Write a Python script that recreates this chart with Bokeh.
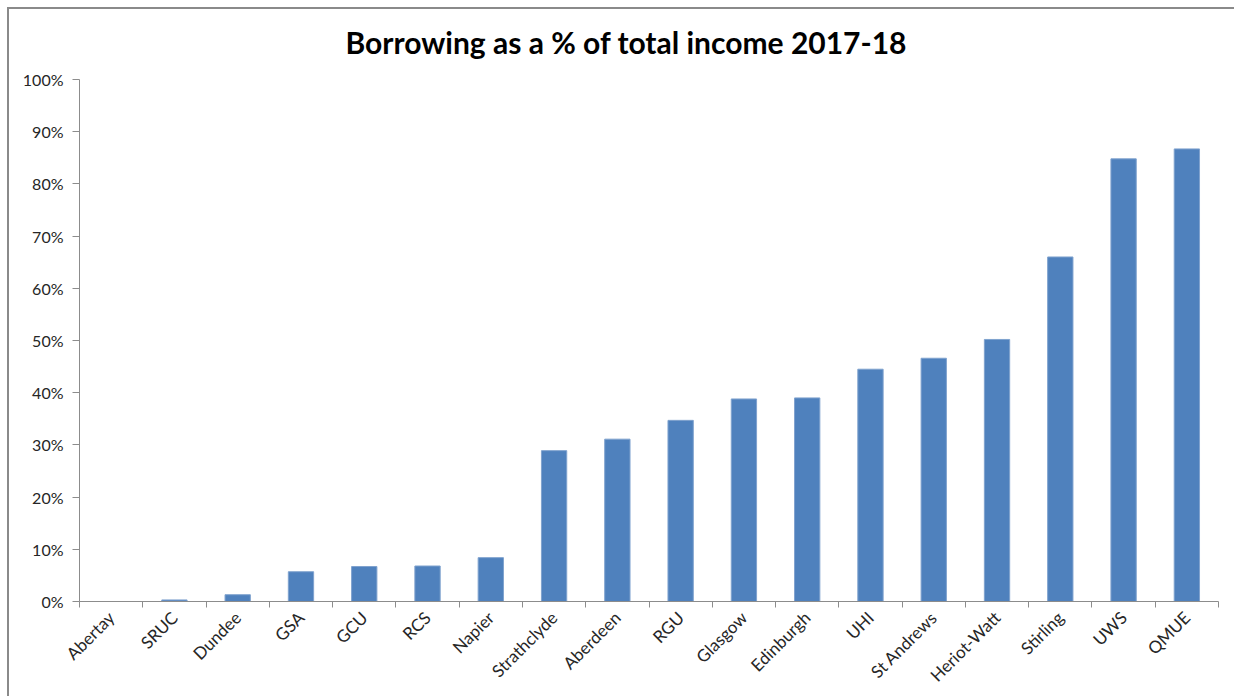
from bokeh.plotting import figure
from bokeh.models import Range1d, FixedTicker, PrintfTickFormatter, LinearAxis
from bokeh.embed import file_html
from bokeh.resources import INLINE
import math

categories = ["Abertay", "SRUC", "Dundee", "GSA", "GCU", "RCS", "Napier", "Strathclyde",
              "Aberdeen", "RGU", "Glasgow", "Edinburgh", "UHI", "St Andrews", "Heriot-Watt",
              "Stirling", "UWS", "QMUE"]
borrowing_pct = [0.0, 0.3, 1.3, 5.7, 6.7, 6.8, 8.4, 28.9, 31.1, 34.7, 38.8, 39.0, 44.5,
                 46.6, 50.2, 66.0, 84.8, 86.7]
y_ticks = [0, 10, 20, 30, 40, 50, 60, 70, 80, 90, 100]
title_text = "Borrowing as a % of total income 2017-18"

FONT = "Lato"
GREY = "#8c8c8c"
BORDER = "#8a8a8a"

n = len(categories)
xpos = [i + 0.5 for i in range(n)]

p = figure(width=1234, height=696, output_backend="svg", toolbar_location=None,
           x_range=Range1d(0, n), y_range=Range1d(0, 100),
           min_border_left=79, min_border_right=16, min_border_top=79, min_border_bottom=94,
           x_axis_type=None, y_axis_type=None)

# outer chart border (left and top edges) painted behind a transparent canvas border area
p.border_fill_color = "white"
p.border_fill_alpha = 0.0
p.styles = {
    "vertical-align": "top",
    "background": (f"linear-gradient({BORDER},{BORDER}) 7px 7px / 2px 100% no-repeat, "
                   f"linear-gradient({BORDER},{BORDER}) 7px 7px / 100% 2px no-repeat, white"),
}

p.title.text = title_text
p.title.text_font = FONT
p.title.text_font_size = "30px"
p.title.text_font_style = "bold"
p.title.text_color = "#000000"
p.title.align = "left"
p.title.vertical_align = "top"
p.title.offset = 266
p.title.standoff = 36

p.outline_line_color = None
p.background_fill_color = "white"

p.vbar(x=xpos, top=borrowing_pct, width=0.4, bottom=0,
       fill_color="#4F81BD", line_color="#7FA2CE", line_width=1)

# y axis
yaxis = LinearAxis(ticker=FixedTicker(ticks=y_ticks),
                   formatter=PrintfTickFormatter(format="%d%%"))
yaxis.axis_line_color = GREY
yaxis.major_tick_line_color = GREY
yaxis.major_tick_out = 7
yaxis.major_tick_in = 0
yaxis.minor_tick_line_color = None
yaxis.major_label_text_font = FONT
yaxis.major_label_text_font_size = "16px"
yaxis.major_label_text_color = "#262626"
yaxis.major_label_standoff = 9
p.add_layout(yaxis, "left")

# x axis: labels at centres, tick marks at category boundaries
xaxis = LinearAxis(ticker=FixedTicker(ticks=xpos, minor_ticks=list(range(n + 1))))
xaxis.major_label_overrides = {x: c for x, c in zip(xpos, categories)}
xaxis.axis_line_color = GREY
xaxis.major_tick_line_color = None
xaxis.minor_tick_line_color = GREY
xaxis.minor_tick_out = 6
xaxis.minor_tick_in = 0
xaxis.major_label_orientation = math.pi / 4
xaxis.major_label_text_font = FONT
xaxis.major_label_text_font_size = "17px"
xaxis.major_label_text_color = "#262626"
xaxis.major_label_standoff = 7
p.add_layout(xaxis, "below")

p.xgrid.visible = False
p.ygrid.ticker = FixedTicker(ticks=y_ticks)
p.ygrid.grid_line_color = GREY
p.ygrid.grid_line_width = 1

open("out.html", "w").write(file_html(p, INLINE))
